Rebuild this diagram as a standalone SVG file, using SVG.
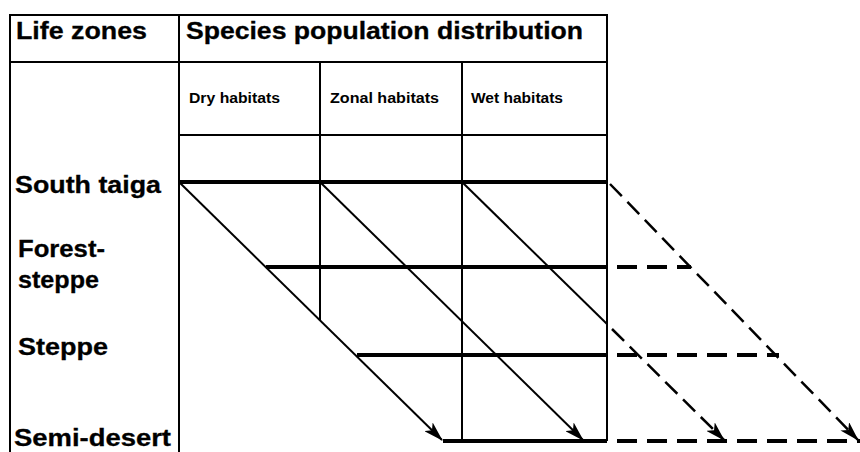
<svg xmlns="http://www.w3.org/2000/svg" width="860" height="452" viewBox="0 0 860 452">
<defs>
<style>
.grid{stroke:#000;stroke-width:2;fill:none}
.zone{stroke:#000;stroke-width:4;fill:none}
.zd{stroke:#000;stroke-width:4;fill:none;stroke-dasharray:20 10}
.diag{stroke:#000;stroke-width:2;fill:none}
.dd{stroke:#000;stroke-width:2.5;fill:none;stroke-dasharray:17 8}
.h1{font-family:"Liberation Sans",Arial,sans-serif;font-weight:bold;font-size:23px;fill:#000;stroke:#000;stroke-width:0.3}
.h3{font-family:"Liberation Sans",Arial,sans-serif;font-weight:bold;font-size:24px;fill:#000;stroke:#000;stroke-width:0.3}
.h2{font-family:"Liberation Sans",Arial,sans-serif;font-weight:bold;font-size:14.5px;fill:#000}
</style>
<marker id="arr" viewBox="0 0 20 12" refX="19" refY="6" markerWidth="20" markerHeight="12" markerUnits="userSpaceOnUse" orient="auto">
<path d="M0,0 L20,6 L0,12 L5,6 Z" fill="#000"/>
</marker>
</defs>
<rect width="860" height="452" fill="#fff"/>
<g id="table">
<line class="grid" x1="10" y1="15" x2="607" y2="15"/>
<line class="grid" x1="10" y1="14" x2="10" y2="452"/>
<line class="grid" x1="179" y1="15" x2="179" y2="452"/>
<line class="grid" x1="607" y1="14" x2="607" y2="441"/>
<line class="grid" x1="10" y1="62" x2="607" y2="62"/>
<line class="grid" x1="179" y1="135" x2="607" y2="135"/>
<line class="grid" x1="320" y1="62" x2="320" y2="320"/>
<line class="grid" x1="462" y1="62" x2="462" y2="441"/>
</g>
<g id="headers">
<text class="h1" x="16" y="39" textLength="131" lengthAdjust="spacingAndGlyphs">Life zones</text>
<text class="h1" x="186" y="39" textLength="397" lengthAdjust="spacingAndGlyphs">Species population distribution</text>
<text class="h2" x="189" y="103" textLength="91" lengthAdjust="spacingAndGlyphs">Dry habitats</text>
<text class="h2" x="330" y="103" textLength="109" lengthAdjust="spacingAndGlyphs">Zonal habitats</text>
<text class="h2" x="471" y="103" textLength="92" lengthAdjust="spacingAndGlyphs">Wet habitats</text>
</g>
<g id="south-taiga">
<text class="h3" x="15" y="193" textLength="146" lengthAdjust="spacingAndGlyphs">South taiga</text>
<line class="zone" x1="179" y1="182" x2="607" y2="182"/>
</g>
<g id="forest-steppe">
<text class="h3" x="18" y="257" textLength="87" lengthAdjust="spacingAndGlyphs">Forest-</text>
<text class="h3" x="18" y="288" textLength="81" lengthAdjust="spacingAndGlyphs">steppe</text>
<line class="zone" x1="266" y1="267" x2="607" y2="267"/>
<line class="zd" x1="617" y1="267" x2="691" y2="267"/>
</g>
<g id="steppe">
<text class="h3" x="18" y="355" textLength="90" lengthAdjust="spacingAndGlyphs">Steppe</text>
<line class="zone" x1="357" y1="355" x2="607" y2="355"/>
<line class="zd" x1="617" y1="355" x2="779" y2="355"/>
</g>
<g id="semi-desert">
<text class="h3" x="14" y="446" textLength="157" lengthAdjust="spacingAndGlyphs">Semi-desert</text>
<line class="zone" x1="443" y1="441" x2="607" y2="441"/>
<line class="zd" x1="617" y1="441" x2="860" y2="441"/>
</g>
<g id="connectors">
<line class="diag" x1="179" y1="182" x2="442" y2="440" marker-end="url(#arr)"/>
<line class="diag" x1="320" y1="182" x2="583" y2="440" marker-end="url(#arr)"/>
<line class="diag" x1="462" y1="182" x2="607" y2="324"/>
<line class="dd" x1="612" y1="329" x2="724" y2="440" marker-end="url(#arr)"/>
<line class="dd" x1="610" y1="184" x2="858" y2="440" marker-end="url(#arr)"/>
</g>
</svg>
